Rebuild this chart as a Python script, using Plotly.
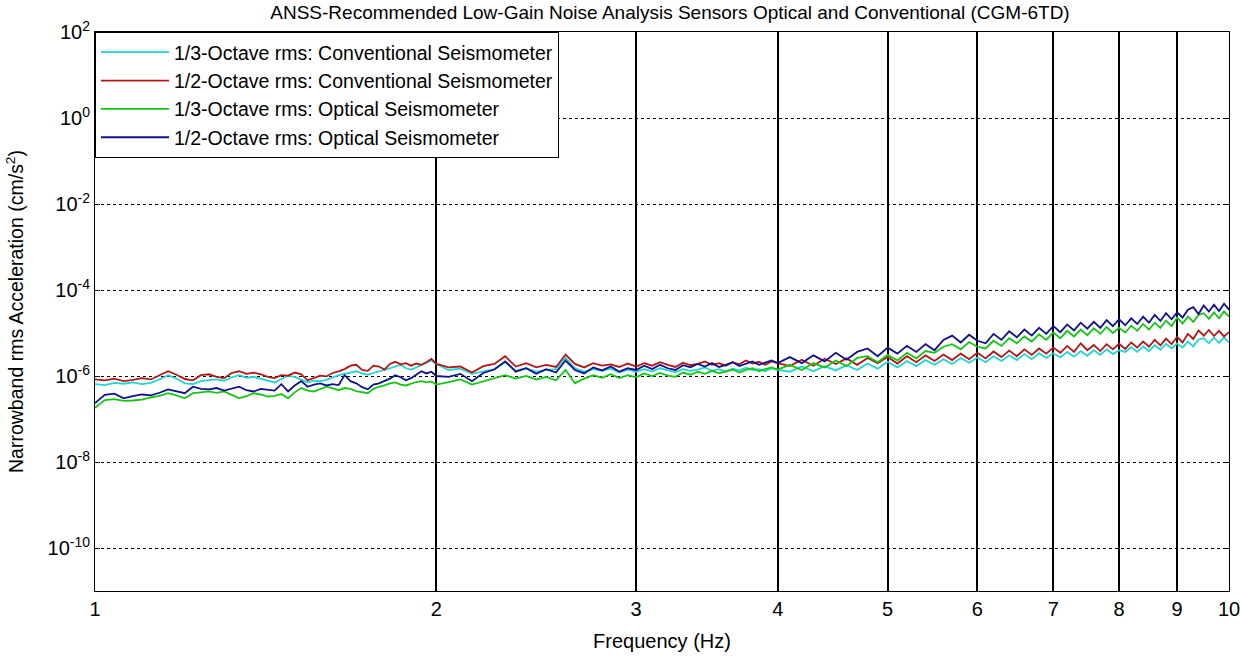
import plotly.graph_objects as go

# ---------------- data ----------------
freq_hz = [
    1.00, 1.02, 1.04, 1.06, 1.08, 1.10, 1.12, 1.14, 1.16, 1.18,
    1.20, 1.22, 1.24, 1.26, 1.28, 1.30, 1.32, 1.34, 1.36, 1.38,
    1.40, 1.42, 1.44, 1.46, 1.48, 1.50, 1.52, 1.54, 1.56, 1.58,
    1.60, 1.62, 1.64, 1.66, 1.68, 1.70, 1.72, 1.74, 1.76, 1.78,
    1.80, 1.82, 1.84, 1.86, 1.88, 1.90, 1.92, 1.94, 1.96, 1.98, 2.00,
    2.05, 2.10, 2.15, 2.20, 2.25, 2.30, 2.35, 2.40, 2.45, 2.50,
    2.55, 2.60, 2.65, 2.70, 2.75, 2.80, 2.85, 2.90, 2.95, 3.00,
    3.05, 3.10, 3.15, 3.20, 3.25, 3.30, 3.35, 3.40, 3.45, 3.50,
    3.55, 3.60, 3.65, 3.70, 3.75, 3.80, 3.85, 3.90, 3.95, 4.00,
    4.1, 4.2, 4.3, 4.4, 4.5, 4.6, 4.7, 4.8, 4.9, 5.0,
    5.1, 5.2, 5.3, 5.4, 5.5, 5.6, 5.7, 5.8, 5.9, 6.0,
    6.1, 6.2, 6.3, 6.4, 6.5, 6.6, 6.7, 6.8, 6.9, 7.0,
    7.1, 7.2, 7.3, 7.4, 7.5, 7.6, 7.7, 7.8, 7.9, 8.0,
    8.1, 8.2, 8.3, 8.4, 8.5, 8.6, 8.7, 8.8, 8.9, 9.0,
    9.1, 9.2, 9.3, 9.4, 9.5, 9.6, 9.7, 9.8, 9.9, 10.0,
]

# log10 of narrowband rms acceleration (cm/s^2)
log_third_conv = [
    -6.19, -6.21, -6.16, -6.18, -6.15, -6.19, -6.16, -6.08, -5.98, -6.06,
    -6.17, -6.19, -6.12, -6.10, -6.08, -6.11, -6.03, -5.98, -6.04, -6.02,
    -6.06, -6.11, -6.15, -6.07, -5.99, -6.02, -6.08, -6.15, -6.11, -6.12,
    -6.09, -6.03, -5.98, -5.95, -5.92, -5.89, -5.94, -5.97, -5.93, -5.90,
    -5.86, -5.82, -5.78, -5.74, -5.82, -5.85, -5.80, -5.74, -5.70, -5.64, -5.72,
    -5.86, -5.83, -5.95, -5.89, -5.84, -5.68, -5.88, -5.82, -5.90, -5.86,
    -5.84, -5.58, -5.82, -5.90, -5.84, -5.88, -5.83, -5.92, -5.85, -5.90,
    -5.84, -5.89, -5.82, -5.87, -5.91, -5.84, -5.88, -5.85, -5.80, -5.88,
    -5.84, -5.90, -5.83, -5.87, -5.81, -5.86, -5.84, -5.89, -5.82, -5.86,
    -5.90, -5.78, -5.89, -5.77, -5.87, -5.75, -5.86, -5.71, -5.83, -5.67,
    -5.80, -5.65, -5.77, -5.63, -5.74, -5.61, -5.72, -5.58, -5.69, -5.57,
    -5.68, -5.54, -5.65, -5.52, -5.63, -5.49, -5.61, -5.47, -5.58, -5.47,
    -5.57, -5.44, -5.55, -5.42, -5.53, -5.40, -5.51, -5.38, -5.49, -5.40,
    -5.44, -5.33, -5.44, -5.31, -5.42, -5.28, -5.39, -5.25, -5.36, -5.24,
    -5.34, -5.20, -5.31, -5.15, -5.12, -5.24, -5.11, -5.23, -5.10, -5.22,
]

log_half_conv = [
    -6.08, -6.10, -6.06, -6.12, -6.09, -6.05, -6.08, -5.98, -5.89, -5.97,
    -6.07, -6.10, -5.98, -5.96, -6.02, -6.05, -5.93, -5.89, -5.95, -5.92,
    -5.96, -6.02, -6.05, -5.98, -5.99, -5.92, -5.96, -6.10, -6.04, -5.99,
    -6.01, -5.93, -5.89, -5.84, -5.76, -5.74, -5.86, -5.88, -5.76, -5.78,
    -5.85, -5.72, -5.67, -5.73, -5.70, -5.76, -5.71, -5.74, -5.68, -5.60, -5.72,
    -5.80, -5.78, -5.92, -5.77, -5.72, -5.54, -5.78, -5.70, -5.80, -5.74,
    -5.79, -5.50, -5.72, -5.80, -5.70, -5.76, -5.73, -5.79, -5.71, -5.78,
    -5.70, -5.76, -5.68, -5.74, -5.79, -5.69, -5.75, -5.72, -5.66, -5.74,
    -5.70, -5.76, -5.68, -5.73, -5.64, -5.71, -5.67, -5.74, -5.66, -5.70,
    -5.77, -5.62, -5.76, -5.60, -5.72, -5.59, -5.74, -5.58, -5.70, -5.56,
    -5.71, -5.54, -5.68, -5.52, -5.65, -5.50, -5.63, -5.48, -5.61, -5.46,
    -5.59, -5.43, -5.56, -5.41, -5.54, -5.38, -5.51, -5.36, -5.48, -5.34,
    -5.46, -5.30, -5.44, -5.24, -5.40, -5.28, -5.42, -5.26, -5.38, -5.25,
    -5.37, -5.22, -5.34, -5.20, -5.32, -5.16, -5.29, -5.13, -5.26, -5.09,
    -5.22, -5.02, -5.14, -4.94, -5.06, -4.93, -5.07, -4.95, -5.08, -4.98,
]

log_third_opt = [
    -6.74, -6.56, -6.54, -6.58, -6.57, -6.55, -6.50, -6.46, -6.40, -6.45,
    -6.52, -6.40, -6.38, -6.36, -6.39, -6.36, -6.44, -6.52, -6.47, -6.40,
    -6.43, -6.48, -6.46, -6.42, -6.52, -6.38, -6.28, -6.34, -6.36, -6.30,
    -6.25, -6.29, -6.33, -6.28, -6.30, -6.35, -6.38, -6.40, -6.30, -6.25,
    -6.22, -6.17, -6.15, -6.20, -6.22, -6.18, -6.14, -6.12, -6.15, -6.13, -6.20,
    -6.14, -6.08, -6.20, -6.12, -6.04, -5.98, -6.06, -6.00, -6.08, -6.02,
    -6.10, -5.86, -6.17, -6.06, -5.98, -6.04, -5.96, -6.05, -5.98, -6.03,
    -5.94, -6.00, -5.93, -5.99, -6.02, -5.92, -5.97, -5.90, -5.95, -5.88,
    -5.94, -5.90, -5.85, -5.92, -5.86, -5.82, -5.89, -5.84, -5.80, -5.85,
    -5.74, -5.86, -5.70, -5.80, -5.64, -5.77, -5.58, -5.54, -5.68, -5.51,
    -5.64, -5.46, -5.59, -5.42, -5.46, -5.32, -5.26, -5.38, -5.21, -5.32,
    -5.36, -5.18, -5.30, -5.12, -5.24, -5.08, -5.20, -5.03, -5.16, -4.99,
    -5.12, -4.95, -5.08, -4.92, -5.05, -4.89, -5.02, -4.86, -5.00, -4.88,
    -4.99, -4.83, -4.95, -4.79, -4.92, -4.76, -4.88, -4.71, -4.84, -4.64,
    -4.78, -4.62, -4.74, -4.58, -4.54, -4.67, -4.52, -4.66, -4.50, -4.62,
]

log_half_opt = [
    -6.63, -6.44, -6.41, -6.52, -6.47, -6.43, -6.45, -6.39, -6.31, -6.36,
    -6.40, -6.25, -6.30, -6.31, -6.28, -6.34, -6.30, -6.25, -6.33, -6.36,
    -6.30, -6.32, -6.34, -6.19, -6.36, -6.22, -6.12, -6.25, -6.20, -6.17,
    -6.22, -6.19, -6.21, -5.98, -6.12, -6.17, -6.26, -6.31, -6.20, -6.17,
    -6.12, -6.06, -5.98, -6.03, -6.10, -6.05, -5.97, -5.89, -5.94, -5.90, -6.00,
    -6.02, -5.95, -6.12, -5.93, -5.85, -5.66, -5.90, -5.82, -5.95, -5.84,
    -5.92, -5.64, -5.86, -5.94, -5.80, -5.87, -5.78, -5.90, -5.82, -5.86,
    -5.76, -5.84, -5.74, -5.82, -5.86, -5.75, -5.80, -5.72, -5.78, -5.70,
    -5.79, -5.74, -5.68, -5.77, -5.71, -5.66, -5.74, -5.69, -5.64, -5.70,
    -5.56, -5.70, -5.52, -5.66, -5.46, -5.62, -5.44, -5.36, -5.54, -5.34,
    -5.48, -5.30, -5.44, -5.26, -5.40, -5.16, -5.06, -5.22, -5.04, -5.18,
    -5.24, -5.02, -5.16, -4.96, -5.10, -4.92, -5.06, -4.88, -5.02, -4.84,
    -4.98, -4.80, -4.94, -4.76, -4.90, -4.74, -4.88, -4.70, -4.84, -4.68,
    -4.82, -4.66, -4.79, -4.62, -4.76, -4.58, -4.72, -4.54, -4.68, -4.52,
    -4.64, -4.46, -4.40, -4.56, -4.36, -4.50, -4.34, -4.49, -4.32, -4.46,
]

series_names = [
    "1/3-Octave rms: Conventional Seismometer",
    "1/2-Octave rms: Conventional Seismometer",
    "1/3-Octave rms: Optical Seismometer",
    "1/2-Octave rms: Optical Seismometer",
]
series_logs = [log_third_conv, log_half_conv, log_third_opt, log_half_opt]
series_colors = ["#1ed6d6", "#b81414", "#12c812", "#101090"]

x_tick_vals = [1, 2, 3, 4, 5, 6, 7, 8, 9, 10]
y_tick_exps = [2, 0, -2, -4, -6, -8, -10]

# ---------------- figure ----------------
FIG_W, FIG_H = 1242, 657
FONT = "Liberation Sans, Arial, sans-serif"
fig = go.Figure()
for name, logs, color in zip(series_names, series_logs, series_colors):
    fig.add_trace(go.Scatter(
        x=freq_hz,
        y=[10 ** v for v in logs],
        mode="lines",
        name=name,
        line=dict(color=color, width=1.8),
    ))

fig.update_layout(
    width=FIG_W,
    height=FIG_H,
    paper_bgcolor="white",
    plot_bgcolor="white",
    margin=dict(l=95, r=13, t=32, b=66, autoexpand=False),
    font=dict(family=FONT, size=20, color="black"),
    title=dict(
        text="ANSS-Recommended Low-Gain Noise Analysis Sensors Optical and Conventional (CGM-6TD)",
        x=670 / FIG_W, xanchor="center", y=1 - 12 / FIG_H, yanchor="middle",
        font=dict(family=FONT, size=19, color="black"),
    ),
    legend=dict(
        x=0, y=1, xanchor="left", yanchor="top",
        bgcolor="white", bordercolor="black", borderwidth=1,
        font=dict(family=FONT, size=19.5, color="black"),
        itemwidth=68,
        tracegroupgap=0,
    ),
    showlegend=True,
)

fig.update_xaxes(
    type="log",
    range=[0, 1],
    tickmode="array",
    tickvals=x_tick_vals,
    ticktext=[str(v) for v in x_tick_vals],
    showgrid=True, gridcolor="black", gridwidth=1.5,
    ticks="inside", ticklen=5, tickcolor="black",
    showline=True, linecolor="black", linewidth=1, mirror="ticks",
    zeroline=False, automargin=False,
    tickfont=dict(family=FONT, size=20, color="black"),
    title=dict(text="Frequency (Hz)", font=dict(family=FONT, size=20, color="black"), standoff=14),
)

fig.update_yaxes(
    type="log",
    range=[-11, 2],
    tickmode="array",
    tickvals=[10 ** e for e in y_tick_exps],
    ticktext=["10<sup>%d</sup>" % e for e in y_tick_exps],
    showgrid=True, gridcolor="black", gridwidth=1, griddash="dot",
    ticks="inside", ticklen=5, tickcolor="black",
    showline=True, linecolor="black", linewidth=1, mirror="ticks",
    zeroline=False, automargin=False,
    tickfont=dict(family=FONT, size=20, color="black"),
    title=dict(text="Narrowband rms Acceleration (cm/s<sup>2</sup>)",
               font=dict(family=FONT, size=19.5, color="black"), standoff=18),
)

# remove the browser's default 8 px body margin so the figure sits at the page origin
fig.write_html(
    "out.html",
    config={"displayModeBar": False},
    post_script="document.body.style.margin='0px';",
)
